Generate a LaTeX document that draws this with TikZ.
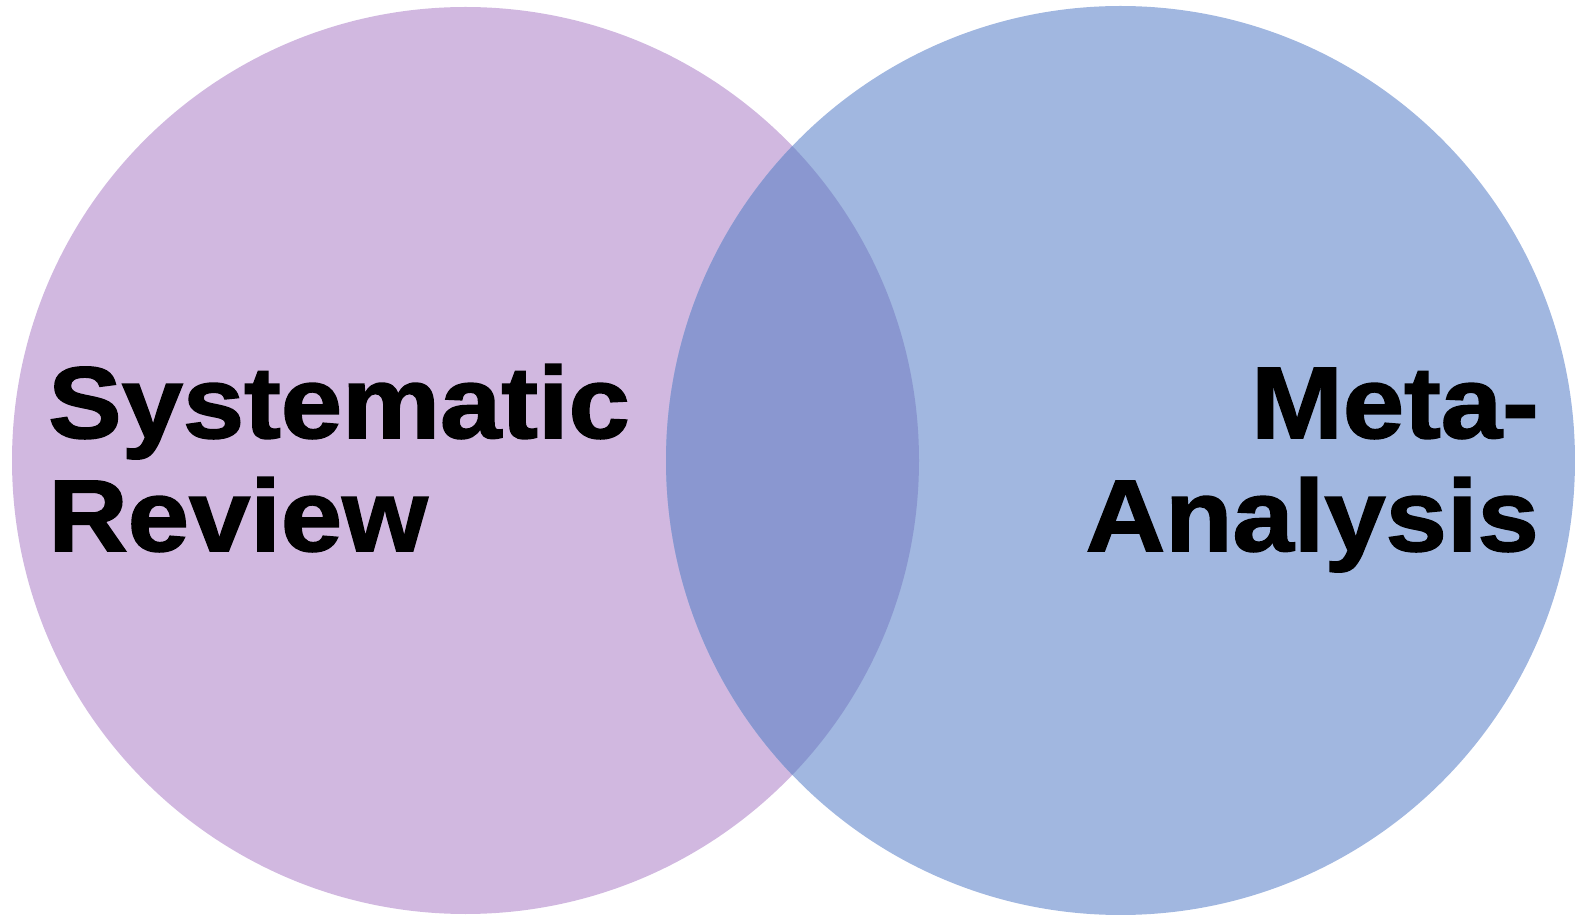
\documentclass[tikz,border=0pt]{standalone}
\usepackage{fontspec}
\setmainfont{Liberation Sans}
\newfontfamily\heavyfont[FakeBold=1.5]{Liberation Sans Bold}
\usepackage{tikz}

\definecolor{srpurple}{HTML}{D1B8E0}
\definecolor{mablue}{HTML}{A1B7E0}
\definecolor{overlap}{HTML}{8A97D0}

\begin{document}
\begin{tikzpicture}[x=1pt, y=1pt]
        \useasboundingbox (0,0) rectangle (1575,914);
        \fill[srpurple] (465.5,453.5) circle (453.5);
        \fill[mablue] (1120.5,453.5) circle (454.5);
        \begin{scope}
          \clip (465.5,453.5) circle (453.5);
          \fill[overlap] (1120.5,453.5) circle (454.5);
        \end{scope}
        \node[font=\heavyfont\fontsize{102}{113}\selectfont, xscale=1.08, align=left, anchor=base west, inner sep=0] (sr) at (48,363) {Systematic\\Review};
        \node[font=\heavyfont\fontsize{102}{113}\selectfont, xscale=1.08, align=right, anchor=base east, inner sep=0] (ma) at (1539,363) {Meta-\\Analysis};
      \end{tikzpicture}
\end{document}
